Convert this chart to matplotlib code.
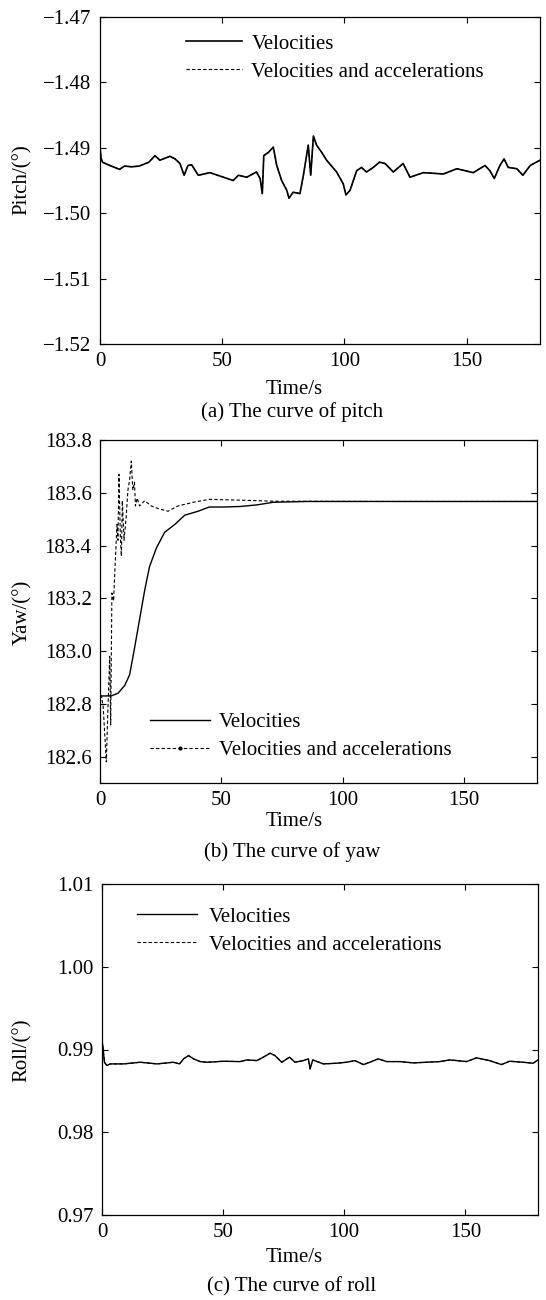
import matplotlib
matplotlib.use('Agg')
import matplotlib.pyplot as plt
from matplotlib.lines import Line2D
from matplotlib.ticker import FuncFormatter

# Pitch (deg) - both curves coincide
pitch_t = [0, 0.4, 1, 4, 8, 10, 13, 16, 20, 22.5, 24.5, 28.6, 30.7, 32.7, 34.4, 36, 37.5,
           40.2, 45, 50.5, 54.5, 56.6, 60, 64, 65.5, 66.4, 67, 68.9, 70.9, 72.3, 74.3,
           76.4, 77.3, 79, 81.8, 83.2, 85.2, 86.2, 87.3, 88.6, 90.7, 92.7, 96.8, 99.5,
           100.6, 102.3, 105, 107, 109, 111.8, 114.3, 116.6, 120, 124, 126.8, 132.3,
           140.5, 146, 152.7, 157.5, 159.5, 161.3, 163.6, 165.3, 167, 170.5, 173, 176, 180]
pitch_vel = [-1.4899, -1.4915, -1.4922, -1.4927, -1.4933, -1.4928, -1.4929, -1.4928, -1.4922,
             -1.4912, -1.4919, -1.4913, -1.4917, -1.4924, -1.4942, -1.4927, -1.4926,
             -1.4942, -1.4938, -1.4945, -1.4950, -1.4942, -1.4945, -1.4937, -1.4947,
             -1.4970, -1.4912, -1.4907, -1.4899, -1.4927, -1.4950, -1.4965, -1.4977,
             -1.4968, -1.4970, -1.4942, -1.4896, -1.4942, -1.4882, -1.4896, -1.4907,
             -1.4919, -1.4937, -1.4955, -1.4972, -1.4965, -1.4935, -1.4930, -1.4937,
             -1.4930, -1.4922, -1.4924, -1.4937, -1.4924, -1.4945, -1.4938, -1.4940,
             -1.4932, -1.4938, -1.4927, -1.4935, -1.4947, -1.4927, -1.4917, -1.4930,
             -1.4932, -1.4942, -1.4927, -1.4919]
pitch_acc = list(pitch_vel)

# Yaw (deg)
yaw_vel_t = [0, 2.5, 4.6, 7.4, 10.2, 12.2, 14.2, 16.3, 18.4, 20.4, 23.2, 26.6, 30.8, 34.9,
             40.4, 45, 50.8, 57.7, 64.6, 71.4, 85.2, 120, 180]
yaw_vel = [182.83, 182.83, 182.83, 182.84, 182.87, 182.91, 183.01, 183.12, 183.23, 183.32,
           183.39, 183.45, 183.48, 183.515, 183.53, 183.546, 183.546, 183.548, 183.554,
           183.564, 183.567, 183.567, 183.567]
yaw_acc_t = [0, 0.55, 1.3, 2.6, 3.3, 4.0, 4.4, 4.9, 5.6, 6.2, 7.0, 7.4, 7.8, 8.4, 8.8, 9.2,
             9.9, 10.8, 11.5, 12.2, 12.9, 13.5, 14.2, 14.6, 15.3, 16.3, 18.4, 21.1, 23.9,
             28, 32.1, 39, 45, 57.7, 71.4, 120, 180]
yaw_acc = [182.83, 182.83, 182.79, 182.58, 182.79, 182.98, 182.72, 183.22, 183.19, 183.32,
           183.48, 183.42, 183.67, 183.43, 183.36, 183.57, 183.42, 183.51, 183.61, 183.65,
           183.72, 183.61, 183.64, 183.55, 183.58, 183.55, 183.57, 183.55, 183.54, 183.53,
           183.55, 183.565, 183.575, 183.572, 183.568, 183.567, 183.567]

# Roll (deg) - both curves coincide
roll_t = [0, 0.4, 1, 2, 3.4, 8.9, 15.8, 22.7, 29.5, 32, 33.7, 35.7, 37.8, 40.5, 43.3,
          50.2, 57, 59.8, 63.9, 66.6, 69.4, 71.4, 74.2, 77.4, 79.7, 83.1, 85.2, 85.9,
          87, 91.4, 96.9, 101, 104.4, 107.9, 110.6, 114, 117.5, 123, 128.5, 134, 139.5,
          143.6, 150.5, 154.6, 160, 164.9, 168.3, 173.8, 178, 180]
roll_vel = [0.99109, 0.99028, 0.98846, 0.98806, 0.98826, 0.98826, 0.98846, 0.98826,
            0.98846, 0.98826, 0.98887, 0.98927, 0.98887, 0.98854, 0.98846, 0.98858,
            0.98854, 0.98874, 0.98866, 0.98907, 0.98955, 0.98927, 0.98846, 0.98907,
            0.98846, 0.98866, 0.98887, 0.98765, 0.98874, 0.98826, 0.98834, 0.98846,
            0.98866, 0.98818, 0.98846, 0.98887, 0.98854, 0.98854, 0.98838, 0.98846,
            0.98854, 0.98874, 0.98854, 0.98899, 0.98866, 0.98818, 0.98858, 0.98846,
            0.98834, 0.98874]
roll_acc = list(roll_vel)

plt.rcParams['font.family'] = ['Liberation Serif', 'DejaVu Serif']
plt.rcParams['font.size'] = 15

fig = plt.figure(figsize=(5.46, 13), dpi=100)

W, H = 546.0, 1300.0


def make_axes(x0, x1, y0, y1):
    # pixel box -> figure fraction
    return fig.add_axes([x0 / W, 1 - y1 / H, (x1 - x0) / W, (y1 - y0) / H])


def fmt(nd):
    return FuncFormatter(lambda v, p: ('%.*f' % (nd, v)).replace('-', '\u2212'))


def style(ax):
    ax.tick_params(direction='in', top=True, right=True, length=4.5, width=0.8, pad=6,
                   labelsize=15)
    for s in ax.spines.values():
        s.set_linewidth(0.9)
    ax.set_xlim(0, 180)
    ax.set_xticks([0, 50, 100, 150])


dash = (0, (3, 2))
leg_kw = dict(loc='upper left', frameon=False, borderpad=0, borderaxespad=0,
              labelspacing=0.4, fontsize=15)

# (a) pitch
ax1 = make_axes(100, 540, 17, 344)
ax1.plot(pitch_t, pitch_vel, color='black', lw=1.2, label='Velocities')
ax1.plot(pitch_t, pitch_acc, color='black', lw=0.8, ls=dash,
         label='Velocities and accelerations')
style(ax1)
ax1.set_ylim(-1.52, -1.47)
ax1.set_yticks([-1.52, -1.51, -1.50, -1.49, -1.48, -1.47])
ax1.yaxis.set_major_formatter(fmt(2))
ax1.legend(bbox_to_anchor=(0.195, 0.948), handlelength=2.7, handletextpad=0.45, **leg_kw)

# (b) yaw
ax2 = make_axes(100, 537, 440, 783)
ax2.plot(yaw_vel_t, yaw_vel, color='black', lw=1.0)
ax2.plot(yaw_acc_t, yaw_acc, color='black', lw=0.8, ls=dash)
style(ax2)
ax2.set_ylim(182.5, 183.8)
ax2.set_yticks([182.6, 182.8, 183.0, 183.2, 183.4, 183.6, 183.8])
ax2.yaxis.set_major_formatter(fmt(1))
h_vel = Line2D([], [], color='black', lw=1.0)
h_acc = Line2D([], [], color='black', lw=0.8, ls=dash, marker='.', markersize=4,
               markevery=[1])
ax2.legend([h_vel, h_acc], ['Velocities', 'Velocities and accelerations'],
           bbox_to_anchor=(0.114, 0.205), handlelength=2.9, handletextpad=0.4,
           numpoints=1, **leg_kw)

# (c) roll
ax3 = make_axes(102, 538, 884, 1215)
ax3.plot(roll_t, roll_vel, color='black', lw=1.0, label='Velocities')
ax3.plot(roll_t, roll_acc, color='black', lw=0.8, ls=dash,
         label='Velocities and accelerations')
style(ax3)
ax3.set_ylim(0.97, 1.01)
ax3.set_yticks([0.97, 0.98, 0.99, 1.00, 1.01])
ax3.yaxis.set_major_formatter(fmt(2))
ax3.legend(bbox_to_anchor=(0.080, 0.93), handlelength=2.9, handletextpad=0.55, **leg_kw)

# axis titles and captions
for ylab, yc in [('Pitch/(°)', 180), ('Yaw/(°)', 612), ('Roll/(°)', 1050)]:
    fig.text(22 / W, 1 - yc / H, ylab, rotation=90, ha='center', va='center', fontsize=15)
for yc in [389, 822, 1258]:
    fig.text(294 / W, 1 - yc / H, 'Time/s', ha='center', va='center', fontsize=15)
for cap, yc in [('(a) The curve of pitch', 412), ('(b) The curve of yaw', 852),
                ('(c) The curve of roll', 1287)]:
    fig.text(292 / W, 1 - yc / H, cap, ha='center', va='center', fontsize=15)

fig.savefig('out.png', dpi=100)
